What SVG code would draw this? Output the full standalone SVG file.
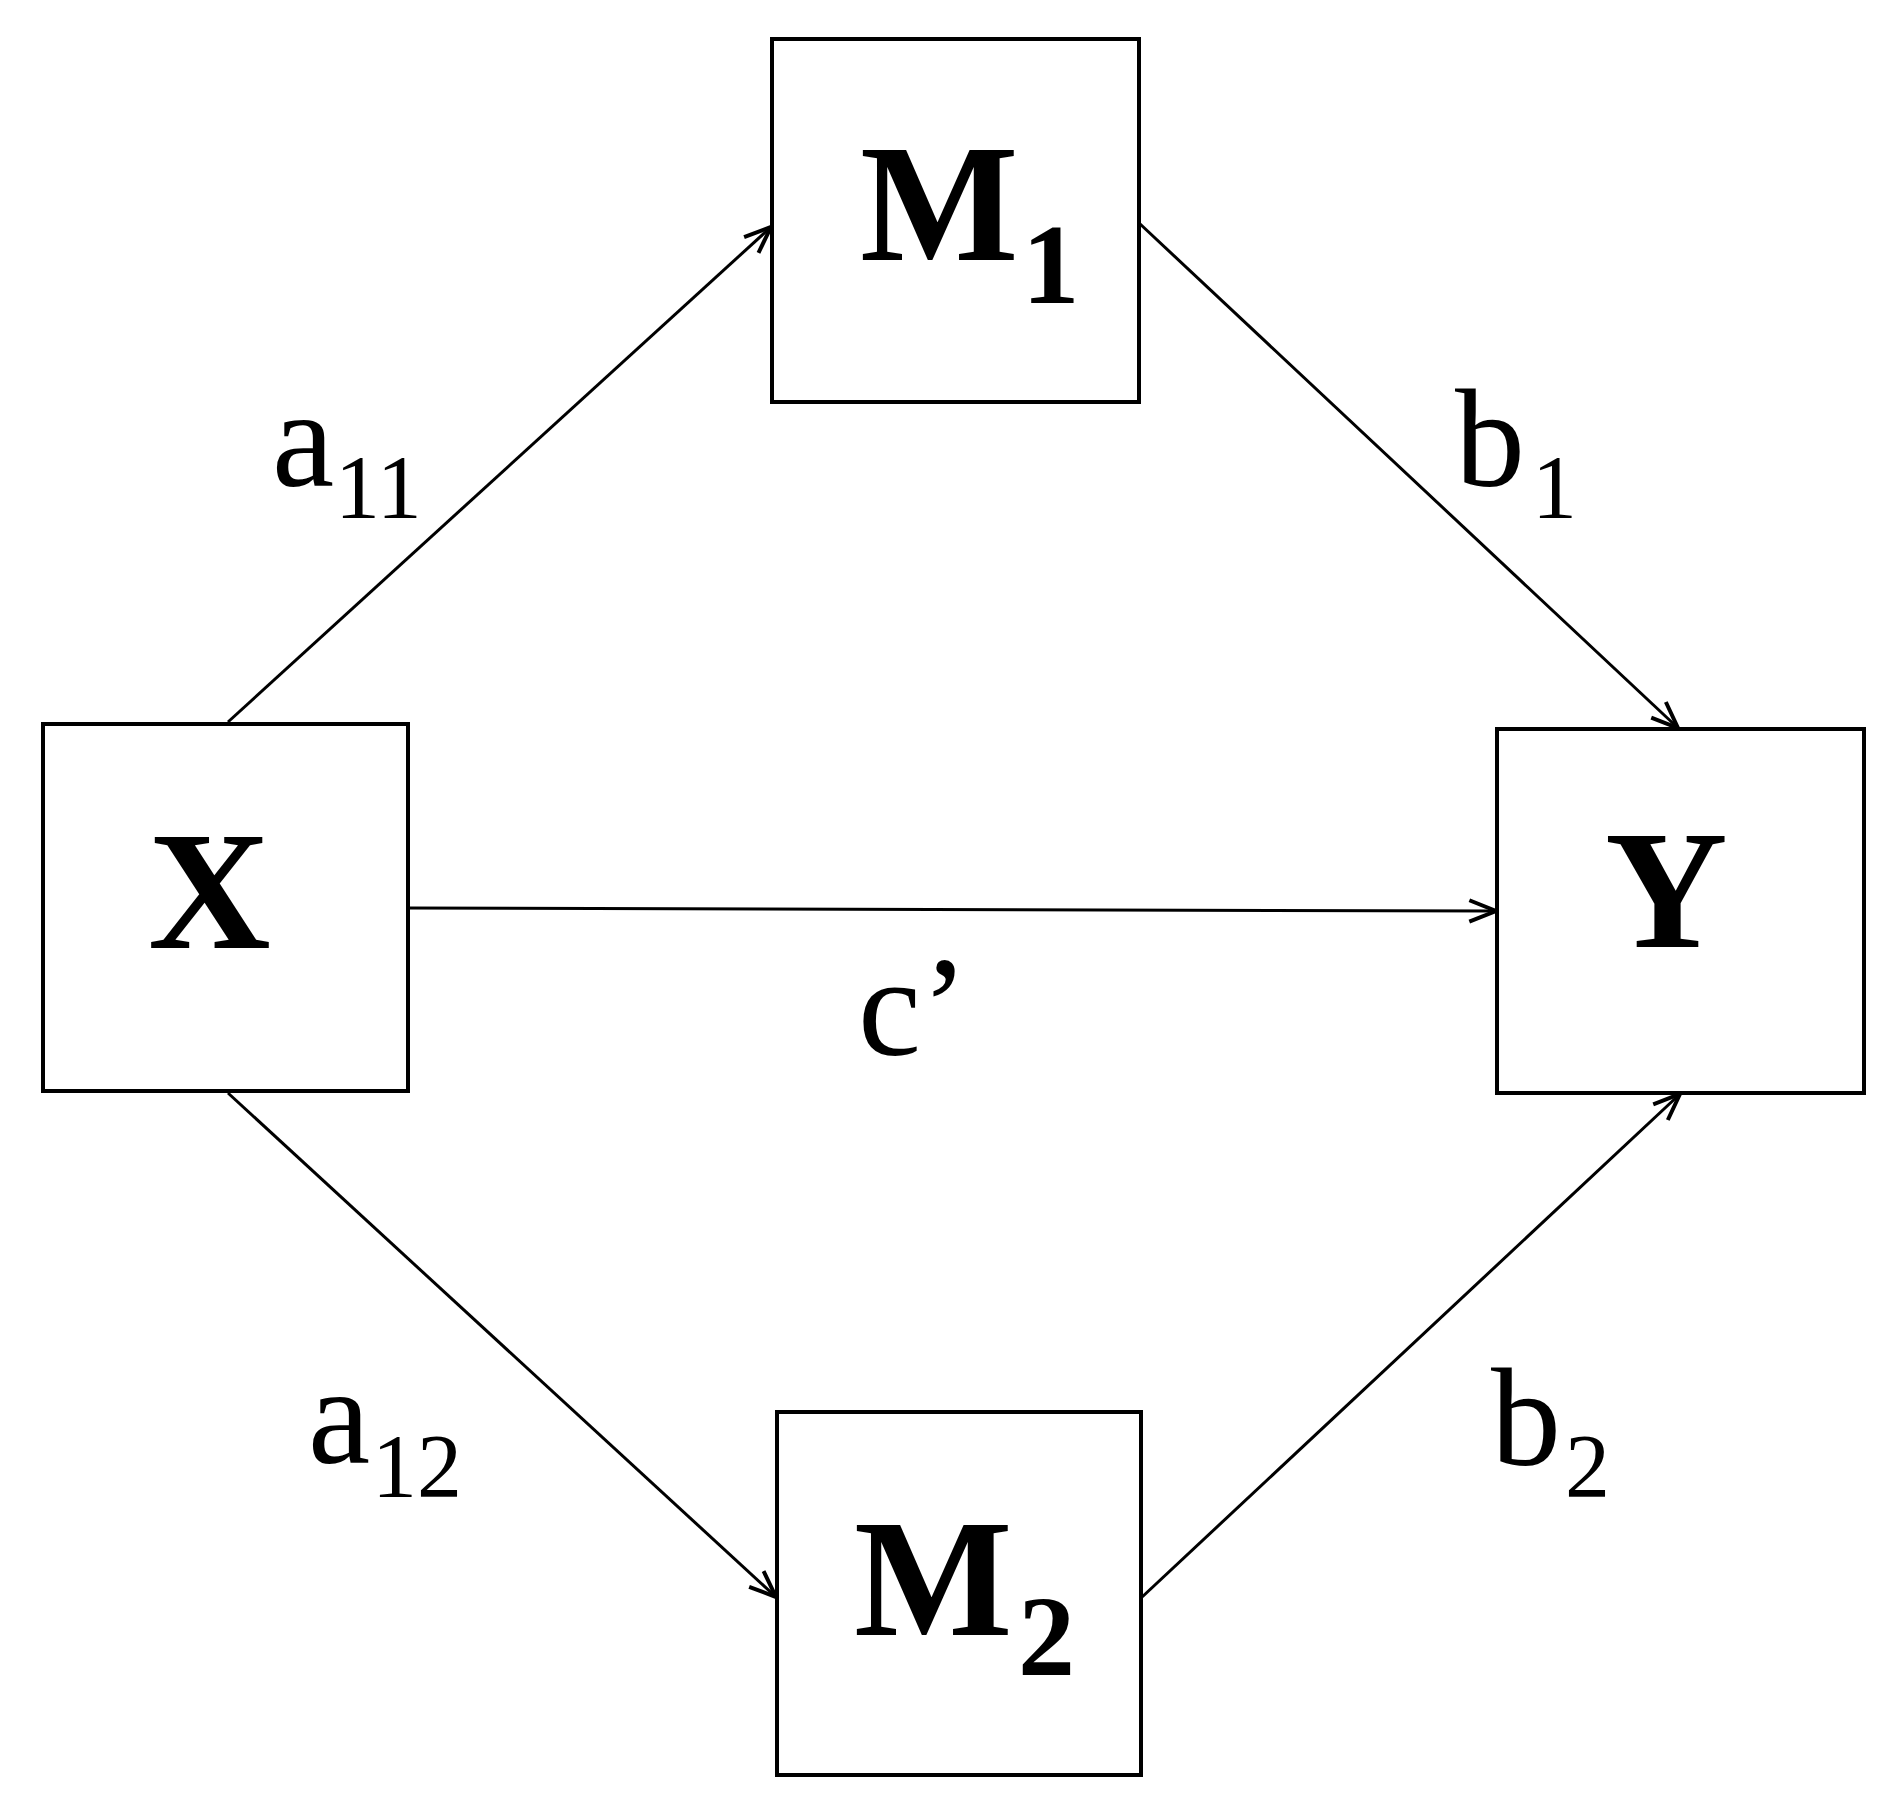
<svg xmlns="http://www.w3.org/2000/svg" width="1894" height="1811" viewBox="0 0 1894 1811">
<defs>
<style>
.box{fill:#fff;stroke:#000;stroke-width:4}
.node{font-family:'Times New Roman','Liberation Serif',Times,serif;font-weight:bold;fill:#000}
.lbl{font-family:'Times New Roman','Liberation Serif',Times,serif;fill:#000}
.edge{stroke:#000;stroke-width:3;fill:none;marker-end:url(#arr)}
</style>
<marker id="arr" markerUnits="userSpaceOnUse" markerWidth="40" markerHeight="40" viewBox="-25 -12 30 24" refX="0" refY="0" orient="auto">
<path d="M-20,-8 L0,0 L-20,8" fill="none" stroke="#000" stroke-width="3"/>
</marker>
</defs>
<rect width="1894" height="1811" fill="#fff"/>
<g id="connectors">
<line class="edge" x1="228" y1="722" x2="771" y2="227"/>
<line class="edge" x1="1139" y1="223" x2="1678" y2="728"/>
<line class="edge" x1="408" y1="908" x2="1496" y2="911"/>
<line class="edge" x1="228" y1="1093" x2="776" y2="1597"/>
<line class="edge" x1="1141" y1="1598" x2="1680" y2="1094"/>
</g>
<g id="node-M1">
<rect class="box" x="772" y="39" width="367" height="363"/>
<text class="node"><tspan x="860" y="260" font-size="168">M</tspan><tspan x="1022" y="303" font-size="115">1</tspan></text>
</g>
<g id="node-X">
<rect class="box" x="43" y="724" width="365" height="367"/>
<text class="node" x="148" y="948" font-size="170">X</text>
</g>
<g id="node-Y">
<rect class="box" x="1497" y="729" width="367" height="364"/>
<text class="node" x="1605" y="947" font-size="170">Y</text>
</g>
<g id="node-M2">
<rect class="box" x="777" y="1412" width="364" height="363"/>
<text class="node"><tspan x="854" y="1635" font-size="168">M</tspan><tspan x="1018" y="1675" font-size="114">2</tspan></text>
</g>
<g id="labels">
<text class="lbl"><tspan x="272" y="486" font-size="140">a</tspan><tspan x="335" y="518" font-size="90">11</tspan></text>
<text class="lbl"><tspan x="1455" y="486" font-size="140">b</tspan><tspan x="1532" y="518" font-size="90">1</tspan></text>
<text class="lbl" x="858" y="1055" font-size="142">c’</text>
<text class="lbl"><tspan x="308" y="1463" font-size="140">a</tspan><tspan x="372" y="1497" font-size="90">12</tspan></text>
<text class="lbl"><tspan x="1491" y="1465" font-size="140">b</tspan><tspan x="1565" y="1497" font-size="90">2</tspan></text>
</g>
</svg>
